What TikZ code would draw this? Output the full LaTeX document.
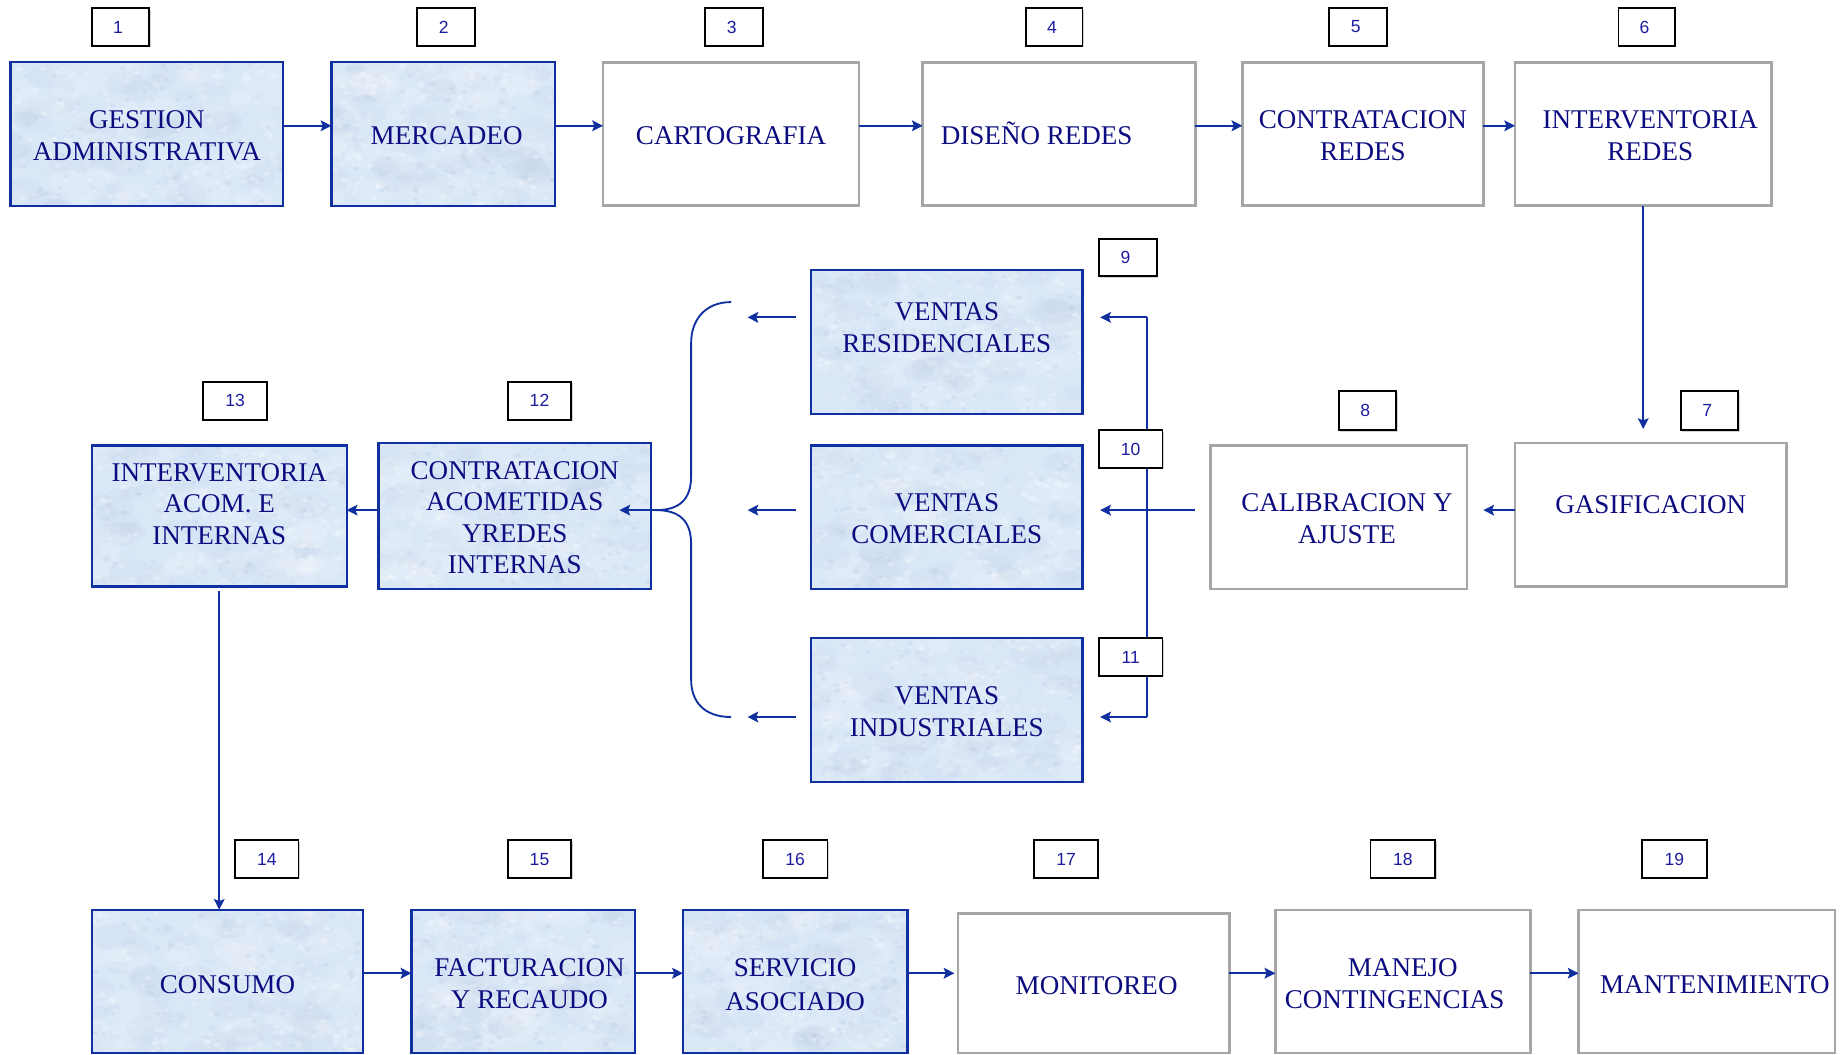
\documentclass[tikz,border=0pt]{standalone}
\usepackage{fontspec}
\setmainfont{Liberation Serif}
\newfontfamily\numfont{Liberation Sans}
\usetikzlibrary{calc,arrows.meta,shadows}

\definecolor{edgeblue}{RGB}{16,48,160}
\definecolor{inkblue}{RGB}{12,12,128}
\definecolor{paperblue}{RGB}{218,231,247}
\definecolor{paperdark}{RGB}{170,188,216}
\definecolor{framegray}{RGB}{166,166,166}
\definecolor{numblue}{RGB}{28,28,160}

% centred block of lines, optionally lifted without changing the node size
\newcommand\boxtext[2][-0.07cm]{\raisebox{#1}[\height][\depth]{\begin{tabular}{@{}c@{}}#2\end{tabular}}}

% mottled "tissue paper" look of the blue stages
\newdimen\mtlx \newdimen\mtly \newdimen\mtux \newdimen\mtuy
\tikzset{
  mottle/.style={path picture={%
    \pgfextractx{\mtlx}{\pgfpointanchor{path picture bounding box}{south west}}%
    \pgfextracty{\mtly}{\pgfpointanchor{path picture bounding box}{south west}}%
    \pgfextractx{\mtux}{\pgfpointanchor{path picture bounding box}{north east}}%
    \pgfextracty{\mtuy}{\pgfpointanchor{path picture bounding box}{north east}}%
    \foreach \k in {1,...,45}{%
      \pgfmathsetmacro\px{\mtlx+rnd*(\mtux-\mtlx)}%
      \pgfmathsetmacro\py{\mtly+rnd*(\mtuy-\mtly)}%
      \pgfmathsetmacro\rr{4+7*rnd}%
      \fill[paperdark, opacity=0.08] (\px pt,\py pt) ellipse [x radius=\rr pt, y radius={0.6*\rr pt}];
    }%
    \foreach \k in {1,...,45}{%
      \pgfmathsetmacro\px{\mtlx+rnd*(\mtux-\mtlx)}%
      \pgfmathsetmacro\py{\mtly+rnd*(\mtuy-\mtly)}%
      \pgfmathsetmacro\rr{4+7*rnd}%
      \fill[white, opacity=0.13] (\px pt,\py pt) ellipse [x radius=\rr pt, y radius={0.6*\rr pt}];
    }%
    \foreach \k in {1,...,160}{%
      \pgfmathsetmacro\px{\mtlx+rnd*(\mtux-\mtlx)}%
      \pgfmathsetmacro\py{\mtly+rnd*(\mtuy-\mtly)}%
      \pgfmathsetmacro\rr{0.6+1.4*rnd}%
      \fill[white, opacity=0.24] (\px pt,\py pt) ellipse [x radius=\rr pt, y radius={0.7*\rr pt}];
    }%
    \foreach \k in {1,...,90}{%
      \pgfmathsetmacro\px{\mtlx+rnd*(\mtux-\mtlx)}%
      \pgfmathsetmacro\py{\mtly+rnd*(\mtuy-\mtly)}%
      \pgfmathsetmacro\rr{0.5+1.2*rnd}%
      \fill[paperdark, opacity=0.18] (\px pt,\py pt) ellipse [x radius=\rr pt, y radius={0.7*\rr pt}];
    }%
  }},
  % a box given by its corners (x1,y1) (x2,y2) in picture units
  span/.style n args={4}{minimum width={(#3-#1)*0.02cm}, minimum height={(#4-#2)*0.02cm},
    at={({(#1+#3)/2},{(#2+#4)/2})}},
  stage/.style={inner sep=0pt, outer sep=0pt, text=inkblue, anchor=center,
    font=\fontsize{13.1}{15.2}\selectfont},
  bluestage/.style={stage, draw=edgeblue, line width=1.1pt, fill=paperblue, mottle},
  graystage/.style={stage, draw=framegray, line width=1.2pt, fill=white},
  tag/.style={draw=black, line width=0.9pt, fill=white, inner sep=0pt, anchor=center,
    text=numblue, font=\numfont\fontsize{8.5}{10}\selectfont,
    drop shadow={shadow xshift=0.7pt, shadow yshift=-0.7pt, opacity=0.35, fill=gray}},
  wire/.style={draw=edgeblue, line width=0.9pt},
  flow/.style={wire, -{Stealth[length=5.2pt, width=5.2pt, inset=1pt]}},
}

\begin{document}
\begin{tikzpicture}[x=0.02cm, y=-0.02cm]
\pgfmathsetseed{4242}
\useasboundingbox (0,0) rectangle (1568,897);
\clip (0,0) rectangle (1568,897);

% ---- first row ----
\node[bluestage, span={9}{53}{241}{175}]     (n1) {\boxtext{GESTION\\ADMINISTRATIVA}};
\node[bluestage, span={282}{53}{472}{175}]   (n2) {\boxtext{\hspace*{0.12cm}MERCADEO}};
\node[graystage, span={513}{53}{731}{175}]   (n3) {\boxtext{CARTOGRAFIA}};
\node[graystage, span={785}{53}{1017}{175}]  (n4) {\boxtext{DISEÑO REDES\hspace*{0.76cm}}};
\node[graystage, span={1057}{53}{1262}{175}] (n5) {\boxtext{CONTRATACION\\REDES}};
\node[graystage, span={1289}{53}{1507}{175}] (n6) {\boxtext{\hspace*{0.24cm}INTERVENTORIA\\\hspace*{0.24cm}REDES}};

% ---- middle band ----
\node[graystage, span={1289}{377}{1520}{499}] (n7) {\boxtext[0.13cm]{GASIFICACION}};
\node[graystage, span={1030}{379}{1248}{501}] (n8) {\boxtext{\hspace*{0.28cm}CALIBRACION Y\\\hspace*{0.28cm}AJUSTE}};
\node[bluestage, span={690}{230}{921}{352}]   (n9) {\boxtext[0.2cm]{VENTAS\\RESIDENCIALES}};
\node[bluestage, span={690}{379}{921}{501}]   (n10) {\boxtext{VENTAS\\COMERCIALES}};
\node[bluestage, span={690}{543}{921}{665}]   (n11) {\boxtext{VENTAS\\INDUSTRIALES}};
\node[bluestage, span={322}{377}{554}{501}]   (n12) {\boxtext{CONTRATACION\\ACOMETIDAS\\YREDES\\INTERNAS}};
\node[bluestage, span={78}{379}{295}{499}]    (n13) {\boxtext[0.16cm]{INTERVENTORIA\\ACOM. E\\INTERNAS}};

% ---- last row ----
\node[bluestage, span={78}{774}{309}{896}]    (n14) {\boxtext[-0.1cm]{CONSUMO}};
\node[bluestage, span={350}{774}{540}{896}]   (n15) {\boxtext[-0.08cm]{\hspace*{0.22cm}FACTURACION\\\hspace*{0.22cm}Y RECAUDO}};
\node[bluestage, span={581}{774}{772}{896}]   (n16) {\boxtext[-0.1cm]{SERVICIO\\[1.5pt]ASOCIADO}};
\node[graystage, span={815}{777}{1046}{896}]  (n17) {\boxtext[-0.08cm]{\hspace*{0.1cm}MONITOREO}};
\node[graystage, span={1085}{774}{1302}{896}] (n18) {\boxtext[-0.08cm]{MANEJO\\CONTINGENCIAS\hspace*{0.28cm}}};
\node[graystage, span={1343}{774}{1561}{896}] (n19) {\boxtext[-0.1cm]{\hspace*{0.28cm}MANTENIMIENTO}};

% ---- reference levels of the connectors ----
\coordinate (rowA) at (0,107);
\coordinate (rowB) at (0,434);
\coordinate (rowC) at (0,828);
\coordinate (busTop) at (976,270);
\coordinate (busBot) at (976,610);
\coordinate (braceTop) at (622,257);
\coordinate (braceTip) at (558,434);
\coordinate (braceBot) at (622,610);

% first row
\draw[flow] (n1.east |- rowA) -- (n2.west |- rowA);
\draw[flow] (n2.east |- rowA) -- (n3.west |- rowA);
\draw[flow] (n3.east |- rowA) -- (n4.west |- rowA);
\draw[flow] (n4.east |- rowA) -- (n5.west |- rowA);
\draw[flow] (n5.east |- rowA) -- (n6.west |- rowA);

% down to gasification and back to the left
\draw[flow, shorten >=0.24cm] (n6.south) -- (n6.south |- n7.north);
\draw[flow, shorten >=0.28cm] (n7.west |- rowB) -- (n8.east |- rowB);
\draw[flow, shorten <=0.26cm, shorten >=0.3cm] (n8.west |- rowB) -- (n10.east |- rowB);

% distribution bus to the three sales boxes
\draw[wire] (busTop) -- (busBot);
\draw[flow, shorten >=0.3cm] (busTop) -- (busTop -| n9.east);
\draw[flow, shorten >=0.3cm] (busBot) -- (busBot -| n11.east);

% sales outputs
\draw[flow, shorten <=0.26cm] (n9.west |- busTop) -- ++(-54,0);
\draw[flow, shorten <=0.26cm] (n10.west |- rowB) -- ++(-54,0);
\draw[flow, shorten <=0.26cm] (n11.west |- busBot) -- ++(-54,0);

% gathering brace
\draw[wire] (braceTop) .. controls (600,257) and (588,272) .. (588,292)
  -- (588,405) .. controls (588,425) and (578,434) .. (braceTip)
  .. controls (578,434) and (588,443) .. (588,463)
  -- (588,578) .. controls (588,598) and (600,610) .. (braceBot);
\draw[flow] (braceTip) -- ++(-31,0);

% contracting, supervision, consumption
\draw[flow] (n12.west |- rowB) -- (n13.east |- rowB);
\draw[flow, shorten <=0.08cm] (n13.south) -- (n13.south |- n14.north);

% last row
\draw[flow] (n14.east |- rowC) -- (n15.west |- rowC);
\draw[flow] (n15.east |- rowC) -- (n16.west |- rowC);
\draw[flow, shorten >=0.06cm] (n16.east |- rowC) -- (n17.west |- rowC);
\draw[flow] (n17.east |- rowC) -- (n18.west |- rowC);
\draw[flow] (n18.east |- rowC) -- (n19.west |- rowC);

% ---- step numbers ----
\node[tag, span={78}{7}{127}{39}]       (t1) {1\hspace*{0.08cm}};
\node[tag, span={355}{7}{404}{39}]      (t2) {2\hspace*{0.08cm}};
\node[tag, span={600}{7}{649}{39}]      (t3) {3\hspace*{0.08cm}};
\node[tag, span={873}{7}{921}{39}]      (t4) {4\hspace*{0.08cm}};
\node[tag, span={1131}{7}{1180}{39}]    (t5) {5\hspace*{0.08cm}};
\node[tag, span={1377}{7}{1425}{39}]    (t6) {6\hspace*{0.08cm}};
\node[tag, span={1430}{333}{1479}{366}] (t7) {7\hspace*{0.08cm}};
\node[tag, span={1139}{333}{1188}{366}] (t8) {8\hspace*{0.08cm}};
\node[tag, span={935}{203}{984}{235}]   (t9) {9\hspace*{0.08cm}};
\node[tag, span={935}{366}{989}{398}]   (t10) {10};
\node[tag, span={935}{543}{989}{575}]   (t11) {11};
\node[tag, span={432}{325}{486}{357}]   (t12) {12};
\node[tag, span={173}{325}{227}{357}]   (t13) {13};
\node[tag, span={200}{715}{254}{747}]   (t14) {14};
\node[tag, span={432}{715}{486}{747}]   (t15) {15};
\node[tag, span={649}{715}{704}{747}]   (t16) {16};
\node[tag, span={880}{715}{934}{747}]   (t17) {17};
\node[tag, span={1166}{715}{1221}{747}] (t18) {18};
\node[tag, span={1397}{715}{1452}{747}] (t19) {19};
\end{tikzpicture}
\end{document}
